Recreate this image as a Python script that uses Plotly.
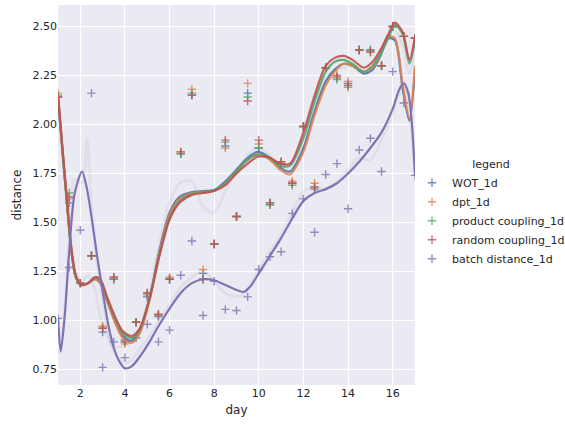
import plotly.graph_objects as go

# ---------------- data ----------------
days = [1, 1.5, 2, 2.5, 3, 3.5, 4, 4.5, 5, 5.5, 6, 6.5, 7, 7.5, 8, 8.5, 9,
        9.5, 10, 10.5, 11, 11.5, 12, 12.5, 13, 13.5, 14, 14.5, 15, 15.5, 16, 16.5, 17]

wot_pts = [2.14, 1.60, 1.19, 1.33, 0.94, 1.21, 0.90, 0.99, 1.12, 1.02, 1.21, 1.85, 2.15, 1.24, 1.39, 1.89, 1.53,
           2.16, 1.88, 1.60, 1.80, 1.70, 1.99, 1.67, 2.29, 2.24, 2.21, 2.38, 2.38, 2.30, 2.50, 2.45, 2.44]
dpt_pts = [2.16, 1.62, 1.19, 1.33, 0.97, 1.22, 0.88, 0.99, 1.14, 1.03, 1.22, 1.86, 2.18, 1.26, 1.39, 1.88, 1.53,
           2.21, 1.90, 1.59, 1.80, 1.71, 1.99, 1.70, 2.29, 2.24, 2.22, 2.38, 2.37, 2.30, 2.50, 2.45, 2.44]
prod_pts = [2.15, 1.65, 1.19, 1.33, 0.96, 1.21, 0.89, 0.99, 1.13, 1.03, 1.21, 1.85, 2.16, 1.21, 1.39, 1.91, 1.53,
            2.14, 1.88, 1.59, 1.81, 1.69, 1.99, 1.68, 2.29, 2.23, 2.19, 2.38, 2.38, 2.30, 2.50, 2.45, 2.44]
rand_pts = [2.14, 1.63, 1.19, 1.33, 0.96, 1.22, 0.89, 0.99, 1.14, 1.03, 1.21, 1.86, 2.15, 1.21, 1.39, 1.92, 1.53,
            2.12, 1.92, 1.60, 1.81, 1.70, 1.99, 1.68, 2.29, 2.25, 2.20, 2.38, 2.37, 2.30, 2.50, 2.45, 2.44]
batch_pts = [1.01, 1.27, 1.46, 2.16, 0.76, 0.89, 0.81, 0.91, 0.98, 0.89, 0.95, 1.23, 1.405, 1.025, 1.20, 1.056, 1.05,
             1.12, 1.26, 1.325, 1.35, 1.546, 1.62, 1.45, 1.745, 1.80, 1.57, 1.87, 1.93, 1.76, 2.27, 2.11, 1.74]

# smoothed curves
line_x = [1, 1.2, 1.4, 1.6, 1.8, 2.05, 2.35, 2.65, 2.9, 3.2, 3.55, 3.9, 4.3, 4.65, 5.1, 5.55, 6.0, 6.45,
          7.0, 7.5, 8.0, 8.5, 9.0, 9.5, 9.95, 10.5, 10.95, 11.4, 12.0, 12.45, 13.0, 13.4, 13.8, 14.2, 14.7,
          15.1, 15.45, 15.8, 16.1, 16.45, 16.75, 17]
rand_line = [2.15, 1.88, 1.62, 1.37, 1.23, 1.18, 1.19, 1.22, 1.21, 1.12, 1.02, 0.945, 0.92, 0.955, 1.11, 1.33, 1.515, 1.60,
             1.64, 1.65, 1.66, 1.69, 1.75, 1.80, 1.835, 1.83, 1.80, 1.80, 1.96, 2.13, 2.30, 2.34, 2.35, 2.33, 2.29,
             2.32, 2.38, 2.46, 2.52, 2.47, 2.33, 2.45]
prod_line = [2.14, 1.87, 1.61, 1.36, 1.22, 1.18, 1.19, 1.22, 1.20, 1.11, 1.01, 0.935, 0.91, 0.95, 1.11, 1.34, 1.52, 1.61,
             1.645, 1.655, 1.665, 1.70, 1.76, 1.82, 1.845, 1.83, 1.79, 1.79, 1.93, 2.10, 2.27, 2.32, 2.33, 2.31, 2.27,
             2.30, 2.36, 2.44, 2.51, 2.46, 2.31, 2.43]
dpt_line = [2.15, 1.87, 1.60, 1.35, 1.22, 1.18, 1.19, 1.21, 1.19, 1.10, 0.99, 0.91, 0.885, 0.93, 1.10, 1.35, 1.54, 1.62,
            1.65, 1.655, 1.66, 1.70, 1.76, 1.82, 1.85, 1.82, 1.77, 1.745, 1.86, 2.03, 2.20, 2.27, 2.31, 2.30, 2.27,
            2.29, 2.36, 2.45, 2.44, 2.20, 2.03, 2.30]
wot_line = [2.14, 1.86, 1.60, 1.35, 1.22, 1.18, 1.19, 1.21, 1.19, 1.10, 1.00, 0.92, 0.895, 0.94, 1.11, 1.36, 1.55, 1.63,
            1.655, 1.66, 1.665, 1.71, 1.77, 1.83, 1.86, 1.83, 1.78, 1.76, 1.88, 2.05, 2.22, 2.28, 2.31, 2.30, 2.26,
            2.28, 2.35, 2.44, 2.43, 2.18, 2.02, 2.28]

batch_x = [1, 1.12, 1.3, 1.5, 1.75, 2.08, 2.3, 2.5, 2.75, 3.0, 3.25, 3.5, 3.75, 4.0, 4.3, 4.7, 5.1, 5.5, 6.0, 6.5,
           7.0, 7.5, 8.0, 8.5, 9.0, 9.3, 9.6, 10.0, 10.5, 11.0, 11.5, 12.0, 12.5, 13.0, 13.5, 14.0, 14.5, 15.0,
           15.5, 16.0, 16.3, 16.5, 16.7, 16.85, 17]
batch_line = [1.02, 0.84, 1.02, 1.35, 1.65, 1.76, 1.67, 1.53, 1.33, 1.15, 0.98, 0.86, 0.79, 0.755, 0.765, 0.82, 0.89, 0.97,
              1.06, 1.14, 1.19, 1.21, 1.205, 1.18, 1.155, 1.145, 1.17, 1.24, 1.33, 1.42, 1.52, 1.61, 1.65, 1.67,
              1.70, 1.75, 1.81, 1.88, 1.96, 2.08, 2.18, 2.21, 2.16, 2.02, 1.74]

# faint bootstrap-like curves
faint_main = [2.14, 1.87, 1.61, 1.37, 1.24, 1.20, 1.23, 1.16, 1.02, 0.92, 0.86, 0.87, 0.90, 0.96, 1.14, 1.40, 1.60, 1.70,
              1.71, 1.58, 1.55, 1.66, 1.76, 1.84, 1.88, 1.84, 1.79, 1.77, 1.90, 2.08, 2.24, 2.28, 2.29, 2.30, 2.27,
              2.30, 2.37, 2.45, 2.48, 2.40, 2.26, 2.38]
faint_batch = [1.02, 0.86, 1.05, 1.40, 1.72, 1.70, 1.93, 1.60, 1.30, 1.10, 0.94, 0.84, 0.80, 0.78, 0.80, 0.86, 0.92, 0.99,
               1.08, 1.17, 1.22, 1.25, 1.20, 1.14, 1.12, 1.13, 1.18, 1.26, 1.35, 1.44, 1.55, 1.66, 1.68, 1.67,
               1.71, 1.77, 1.83, 1.82, 1.92, 2.06, 2.16, 2.19, 2.12, 1.98, 1.75]

names = ["WOT_1d", "dpt_1d", "product coupling_1d", "random coupling_1d", "batch distance_1d"]
colors = ["#4c72b0", "#dd8452", "#55a868", "#c44e52", "#8172b3"]
pts = [wot_pts, dpt_pts, prod_pts, rand_pts, batch_pts]
lines = [wot_line, dpt_line, prod_line, rand_line]

fig = go.Figure()

# faint curves
fig.add_trace(go.Scatter(x=line_x, y=faint_main, mode="lines",
                         line=dict(color="rgba(160,150,160,0.12)", width=3, shape="spline", smoothing=0.8),
                         showlegend=False, hoverinfo="skip"))
fig.add_trace(go.Scatter(x=batch_x, y=faint_batch, mode="lines",
                         line=dict(color="rgba(160,150,175,0.12)", width=3, shape="spline", smoothing=0.8),
                         showlegend=False, hoverinfo="skip"))

# scatter points
for n, c, p in zip(names, colors, pts):
    fig.add_trace(go.Scatter(x=days, y=p, mode="markers", name=n,
                             marker=dict(symbol="cross-thin", size=6, color=c, opacity=0.8,
                                         line=dict(color=c, width=1.4))))

# smoothed lines
for c, l in zip(colors[:4], lines):
    fig.add_trace(go.Scatter(x=line_x, y=l, mode="lines", line=dict(color=c, width=2.2, shape="spline", smoothing=0.8),
                             opacity=0.9, showlegend=False, hoverinfo="skip"))
fig.add_trace(go.Scatter(x=batch_x, y=batch_line, mode="lines",
                         line=dict(color=colors[4], width=2.2, shape="spline", smoothing=0.8),
                         showlegend=False, hoverinfo="skip"))

fig.update_layout(
    width=565, height=425,
    margin=dict(l=58, r=150, t=5, b=40, autoexpand=False),
    paper_bgcolor="white", plot_bgcolor="#eaeaf2",
    font=dict(family="DejaVu Sans", size=11, color="#262626"),
    legend=dict(title=dict(text="legend", side="top center", font=dict(size=11)),
                xref="container", x=412 / 565, xanchor="left",
                yref="container", y=1 - 214 / 425, yanchor="middle",
                font=dict(size=11), bgcolor="rgba(0,0,0,0)", tracegroupgap=0),
)
fig.update_xaxes(range=[1, 17], tickvals=[2, 4, 6, 8, 10, 12, 14, 16], gridcolor="white", gridwidth=1,
                 zeroline=False, showline=False, ticks="", title=dict(text="day", standoff=6, font=dict(size=12)))
fig.update_yaxes(range=[0.67, 2.61], tickvals=[0.75, 1.0, 1.25, 1.5, 1.75, 2.0, 2.25, 2.5], tickformat=".2f",
                 gridcolor="white", gridwidth=1, zeroline=False, showline=False, ticks="",
                 title=dict(text="distance", standoff=8, font=dict(size=12)))

fig.write_html("out.html")
